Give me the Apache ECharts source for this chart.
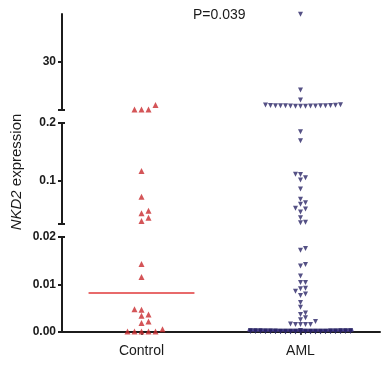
<!DOCTYPE html>
<html>
<head>
<meta charset="utf-8">
<script src="https://cdn.jsdelivr.net/npm/echarts@6/dist/echarts.min.js"></script>
<style>html,body{margin:0;padding:0;background:#fff}#c{width:388px;height:366px}</style>
</head>
<body>
<div id="c"></div>
<script>
// ---------- data ----------
const categories = ['Control', 'AML'];
const controlValues = [3.3, 0.5, 0.5, 0.5,
  0.1168, 0.0723, 0.048, 0.0435, 0.0359, 0.0302,
  0.0143, 0.0116, 0.0048, 0.0047, 0.0037, 0.0034, 0.0022, 0.0019,
  0.0006, 0.0001, 0.0001, 0.0001, 0.0001, 0.0001];
const amlTopValues = [59.8, 12.7, 6.4,
  2.5, 2.6, 2.6, 2.7, 2.7, 2.7, 2.8, 2.8, 2.8, 2.9, 2.9, 3.0, 3.0, 3.1, 3.3, 3.4];
const amlMidValues = [0.1849, 0.1693, 0.1111, 0.1108, 0.1052, 0.1012, 0.0856, 0.0678,
  0.0619, 0.0591, 0.0522, 0.051, 0.0458, 0.0359, 0.028, 0.0273];
const amlLowValues = [0.0176, 0.0172, 0.0142, 0.0139, 0.0118, 0.0104, 0.0104, 0.0092,
  0.0091, 0.0086, 0.0080, 0.0077, 0.0062, 0.0052, 0.0040, 0.0037, 0.0030, 0.0026,
  0.0022, 0.0017, 0.0016, 0.0016, 0.0016, 0.0016];
const amlZeroValues = [0, 0, 0, 0, 0, 0, 0, 0, 0.00005, 0.00005, 0.00005, 0.00005,
  0.00005, 0.00005, 0.00005, 0.00005, 0.0001, 0.0001, 0.0001, 0.0001, 0.0001, 0.0001,
  0.0001, 0.0001, 0.0001, 0.0001, 0.00012, 0.00012, 0.00012, 0.00012, 0.00012, 0.00012,
  0.00015, 0.00015, 0.00015, 0.00015, 0.00015, 0.00015, 0.00015, 0.00015, 0.0002, 0.0002,
  0.0002, 0.0002, 0.0002, 0.0002, 0.0002, 0.0002, 0.00022, 0.00022, 0.00022, 0.00022,
  0.00025, 0.00025, 0.00025, 0.00025, 0.00025, 0.0003, 0.0003, 0.0003, 0.0003, 0.0003,
  0.0003, 0.0003];
const amlValues = amlTopValues.concat(amlMidValues, amlLowValues, amlZeroValues);
// broken axis segments: [min, max]
const segTop = [0.2, 60];
const segMid = [0.025, 0.2];
const segLow = [0, 0.02];
const topTicks = [30];
const midTicks = [0.1, 0.2];
const lowTicks = [0, 0.01, 0.02];
const pText = 'P=0.039';

// ---------- chart ----------
const FONT = '"Liberation Sans", Arial, sans-serif';
const AX = '#1c1c1c';
const chart = echarts.init(document.getElementById('c'), null, {renderer: 'canvas'});
const gridDefs = [
  {left: 62, top: 14, width: 318, height: 96},
  {left: 62, top: 123, width: 318, height: 101},
  {left: 62, top: 237, width: 318, height: 95}
];
function mainY(g, seg, ticks, fmt) {
  return {
    type: 'value', gridIndex: g, min: seg[0], max: seg[1], position: 'left',
    axisLine: {show: true, lineStyle: {color: AX, width: 2}},
    axisTick: {show: true, length: 4, lineStyle: {color: AX, width: 2},
      customValues: ticks.concat([seg[0], seg[1]]).filter(v => !(g === 0 && v === seg[1]))},
    axisLabel: {show: true, customValues: ticks, margin: 6, formatter: fmt,
      fontFamily: FONT, fontWeight: 'bold', fontSize: 12, color: '#1a1a1a'},
    splitLine: {show: false}
  };
}
function capY(g, seg, caps) {
  return {
    type: 'value', gridIndex: g, min: seg[0], max: seg[1], position: 'left', offset: 0,
    axisLine: {show: false},
    axisTick: {show: true, inside: true, length: 3, lineStyle: {color: AX, width: 2}, customValues: caps},
    axisLabel: {show: false}, splitLine: {show: false}
  };
}
const yAxes = [
  mainY(0, segTop, topTicks, v => String(v)),
  capY(0, segTop, [segTop[0]]),
  mainY(1, segMid, midTicks, v => String(v)),
  capY(1, segMid, [segMid[0], segMid[1]]),
  mainY(2, segLow, lowTicks, v => v.toFixed(2)),
  capY(2, segLow, [segLow[1]])
];
const xAxes = [0, 1, 2].map(g => ({type: 'value', gridIndex: g, min: 0, max: 2, show: false, position: 'top'}));
xAxes.push({
  type: 'category', gridIndex: 2, data: categories, boundaryGap: true, position: 'bottom',
  axisLine: {show: true, lineStyle: {color: AX, width: 2}},
  axisTick: {show: true, alignWithLabel: true, length: 3, lineStyle: {color: AX, width: 1.5}},
  axisLabel: {fontFamily: FONT, fontSize: 14, color: '#1a1a1a', margin: 12},
  splitLine: {show: false}
});

chart.setOption({
  animation: false,
  backgroundColor: '#fff',
  grid: gridDefs,
  xAxis: xAxes,
  yAxis: yAxes,
  graphic: [
    {type: 'text', x: 193, y: 15, style: {text: pText, font: '14px ' + FONT, fill: '#1a1a1a',
      textAlign: 'left', textVerticalAlign: 'middle'}},
    {type: 'text', x: 17, y: 172, rotation: Math.PI / 2,
      style: {text: '{i|NKD2} expression', fontFamily: FONT, fontSize: 15, fill: '#1a1a1a',
        textAlign: 'center', textVerticalAlign: 'middle',
        rich: {i: {fontStyle: 'italic', fontFamily: FONT, fontSize: 15, fill: '#1a1a1a'}}}}
  ]
});

function segIndex(v) { return v > segMid[1] ? 0 : (v >= segMid[0] ? 1 : 2); }
function yPix(v) {
  const g = segIndex(v);
  return chart.convertToPixel({xAxisIndex: g, yAxisIndex: g * 2}, [1, v])[1];
}
function swarm(values, center, d, thr, maxK) {
  const cpx = chart.convertToPixel({xAxisIndex: 2}, center);
  const order = [0];
  for (let k = 1; k <= maxK; k++) order.push(k, -k);
  const pts = values.map(v => ({v: v, y: yPix(v)})).sort((a, b) => a.v - b.v);
  const placed = [];
  pts.forEach(p => {
    let best = null, bestC = Infinity;
    for (const k of order) {
      const x = cpx + k * d;
      let c = 0;
      placed.forEach(q => { if (Math.abs(q.x - x) < d * 0.9 && Math.abs(q.y - p.y) < thr) c++; });
      if (c === 0) { best = x; break; }
      if (c < bestC) { bestC = c; best = x; }
    }
    p.x = best;
    placed.push(p);
  });
  return pts.map(p => ({g: segIndex(p.v), x: chart.convertFromPixel({xAxisIndex: 2}, p.x), v: p.v}));
}
function median(a) {
  const s = a.slice().sort((x, y) => x - y), n = s.length;
  return n % 2 ? s[(n - 1) / 2] : (s[n / 2 - 1] + s[n / 2]) / 2;
}
const groups = [
  {values: controlValues, center: 0.5, d: 7, thr: 5.5, maxK: 7, size: 6, rot: 0,
    color: '#c92a2e', lineColor: '#e0393a'},
  {values: amlValues, center: 1.5, d: 5, thr: 4.3, maxK: 10, size: 5, rot: 180,
    color: '#2a2566', lineColor: '#5746a6'}
];
const series = [];
groups.forEach(gr => {
  const med = median(gr.values);
  const mg = segIndex(med);
  series.push({type: 'line', xAxisIndex: mg, yAxisIndex: mg * 2, symbol: 'none', z: 1,
    lineStyle: {color: gr.lineColor, width: 1.6}, silent: true,
    data: [[gr.center - 0.333, med], [gr.center + 0.333, med]]});
  const pts = swarm(gr.values, gr.center, gr.d, gr.thr, gr.maxK);
  [0, 1, 2].forEach(g => {
    series.push({type: 'scatter', xAxisIndex: g, yAxisIndex: g * 2, z: 3,
      symbol: 'triangle', symbolSize: gr.size, symbolRotate: gr.rot,
      itemStyle: {color: gr.color}, clip: false,
      data: pts.filter(p => p.g === g).map(p => [p.x, p.v])});
  });
});
chart.setOption({series: series});
</script>
</body>
</html>
